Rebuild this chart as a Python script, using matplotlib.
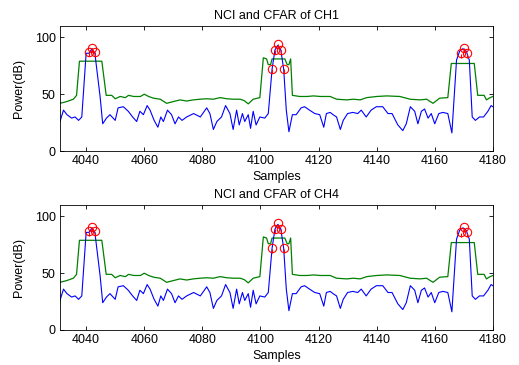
import matplotlib
matplotlib.use("Agg")
import matplotlib.pyplot as plt

plt.rcParams['font.family'] = ['Liberation Sans', 'DejaVu Sans']

# NCI output (blue)
nci_x = [4031, 4032.2, 4033.4, 4035, 4036.2, 4037.4, 4038.5, 4040, 4041, 4042, 4043,
         4044.8, 4045.7, 4047, 4048.2, 4050, 4051, 4052.8, 4054.5, 4056, 4057.4, 4058.5,
         4059.7, 4061, 4062, 4063.4, 4064.7, 4065.7, 4066.6, 4068, 4069.4, 4070.6, 4071.8,
         4073, 4074.6, 4077, 4079.3, 4081.5, 4082.6, 4083.8, 4085, 4086.6, 4088, 4089.5,
         4090.6, 4091.8, 4092.7, 4093.8, 4094.6, 4095.8, 4096.6, 4097.5, 4098.5, 4099.8,
         4101.5, 4102.7, 4104, 4105, 4106, 4107, 4108, 4108.9, 4109.8, 4111, 4112.3,
         4114, 4115.2, 4116.9, 4118.7, 4120.4, 4121.8, 4122.7, 4124, 4125, 4126.2, 4127.5,
         4128.5, 4130, 4131.8, 4133.5, 4134.7, 4136.4, 4138.1, 4139.9, 4142.1, 4143.9,
         4145.3, 4147.3, 4149, 4150.2, 4151.6, 4153.1, 4154.2, 4155.4, 4156.5, 4157.7,
         4158.8, 4160, 4161.4, 4162.8, 4164.5, 4165.9, 4167.5, 4168.6, 4169.7, 4170.8,
         4171.9, 4172.9, 4174, 4175.4, 4176.8, 4178.3, 4179.4, 4180]
nci_y = [26, 36, 32, 29, 30, 27, 30, 86, 86, 90, 86,
         48, 24, 29, 32, 27, 38, 39, 35, 30, 26, 35,
         32, 40, 36, 27, 21, 30, 26, 36, 32, 24, 30,
         27, 30, 33, 30, 38, 33, 19, 26, 30, 40, 33,
         19, 36, 23, 33, 26, 32, 20, 35, 23, 30,
         29, 33, 72, 89, 93, 89, 72, 36, 17, 32, 32,
         38, 39, 36, 33, 32, 21, 33, 34, 32, 30, 19,
         27, 33, 34, 33, 36, 30, 36, 39, 39, 33,
         33, 23, 18, 24, 39, 35, 24, 35, 37, 29,
         33, 24, 33, 34, 33, 16, 80, 88, 90, 88,
         80, 30, 27, 30, 30, 35, 40, 39]

# CFAR threshold (green)
cfar_x = [4031, 4033.3, 4035.6, 4036.7, 4037.7, 4045.4, 4046.9, 4048.8, 4050, 4051.7,
          4053.5, 4054.6, 4056.4, 4058.7, 4060, 4061.5, 4063.2, 4065.5, 4067.7, 4070,
          4072.3, 4074.6, 4076.9, 4079.2, 4081.5, 4083.8, 4086.1, 4088.4, 4090.7, 4093,
          4094.4, 4095.8, 4097.5, 4099.8, 4101, 4102.1, 4102.7, 4103.5, 4104, 4108.4,
          4109.2, 4109.8, 4110.4, 4111, 4113.5, 4116, 4118.3, 4120.6, 4124, 4126.2,
          4129.7, 4132, 4134.3, 4136.6, 4140, 4143.5, 4148, 4151.5, 4154.9, 4157.2,
          4159.4, 4161.7, 4164.5, 4165.7, 4173.6, 4174.8, 4177, 4177.8, 4178.7, 4180]
cfar_y = [42, 43.5, 45.6, 49, 79, 79, 49, 49, 46, 48,
          47, 49, 48, 48, 50, 48, 46.5, 45.6, 42, 43.5,
          45, 44, 45, 45.6, 46, 45.6, 47, 46, 45.6, 45.6,
          44.4, 41.5, 45.6, 47, 82, 81, 76, 76, 81, 81,
          76, 76, 81, 49, 48, 48, 48.5, 48, 48, 45.6,
          45, 45.6, 45, 47, 48, 48.5, 48, 45.6, 45, 45.6,
          42, 46.5, 47, 77, 77, 49, 49, 45, 46.5, 48]

# detections (red circles)
det_x = [4041, 4042, 4043, 4104, 4105, 4106, 4107, 4108, 4169, 4170, 4171]
det_y = [87, 91, 87, 72, 89, 94, 89, 72, 86, 90.5, 86]

channels = ["CH1", "CH4"]
xticks = [4040, 4060, 4080, 4100, 4120, 4140, 4160, 4180]
yticks = [0, 50, 100]

fig = plt.figure(figsize=(5.19, 3.65), dpi=100)
boxes = [[0.1156, 0.586, 0.834, 0.343], [0.1156, 0.096, 0.834, 0.342]]

for box, ch in zip(boxes, channels):
    ax = fig.add_axes(box)
    ax.plot(cfar_x, cfar_y, color="#008000", lw=0.9)
    ax.plot(nci_x, nci_y, color="#0000ff", lw=0.8)
    ax.plot(det_x, det_y, 'o', mfc='none', mec='red', ms=6, mew=0.8)
    ax.plot(det_x, [v - 2 for v in det_y], '|', color='red', ms=3, mew=0.8)
    ax.set_xlim(4031, 4180)
    ax.set_ylim(0, 110)
    ax.set_xticks(xticks)
    ax.set_yticks(yticks)
    ax.tick_params(direction='in', top=True, right=True, labelsize=9, length=3, width=0.6, pad=3)
    for s in ax.spines.values():
        s.set_linewidth(0.6)
    ax.set_title("NCI and CFAR of " + ch, fontsize=9, pad=5)
    ax.set_xlabel("Samples", fontsize=9, labelpad=3)
    ax.set_ylabel("Power(dB)", fontsize=9, labelpad=7)

fig.savefig("out.png", dpi=100)
